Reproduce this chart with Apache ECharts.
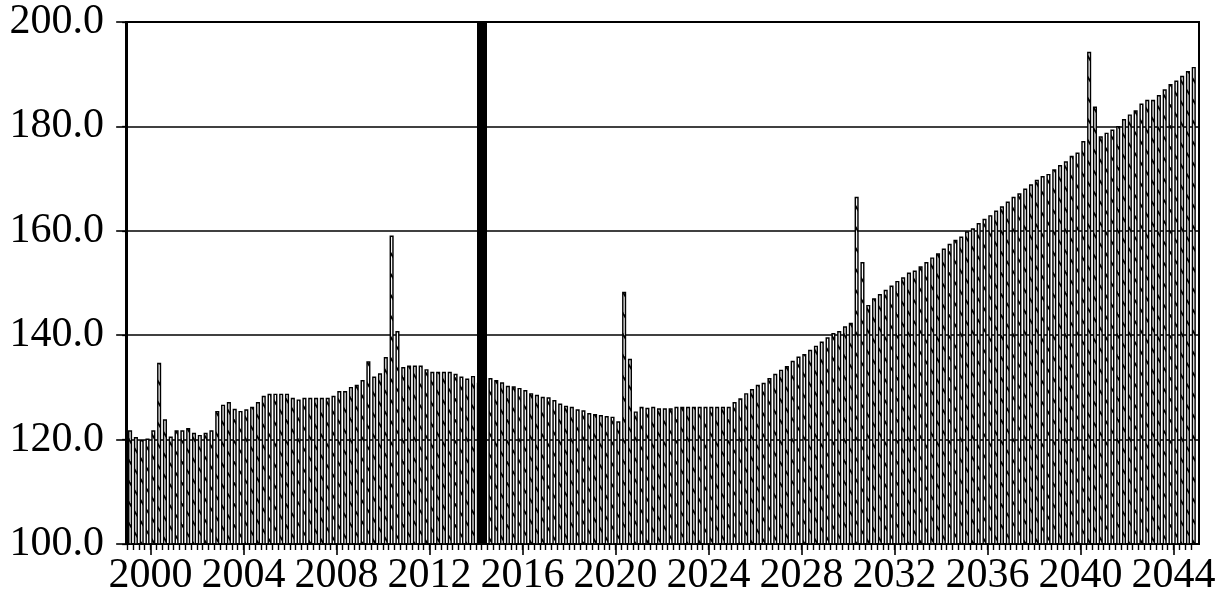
<!DOCTYPE html>
<html>
<head>
<meta charset="utf-8">
<script src="https://cdn.jsdelivr.net/npm/echarts@6/dist/echarts.min.js"></script>
<style>
  html, body { margin: 0; padding: 0; background: #fff; }
  #chart { width: 1224px; height: 599px; }
</style>
</head>
<body>
<div id="chart"></div>
<script>
// Quarterly periods, 1999Q1 .. 2044Q4
const quarters = [];
for (let y = 1999; y <= 2044; y++) {
  for (let q = 1; q <= 4; q++) quarters.push(y + 'Q' + q);
}

// Quarterly values (one row per year)
const values = [
  121.8, 120.5, 119.9, 120.2,   // 1999
  121.8, 134.7, 123.9, 120.6,   // 2000
  121.8, 121.8, 122.2, 121.3,   // 2001
  120.9, 121.3, 121.8, 125.5,   // 2002
  126.7, 127.2, 125.9, 125.5,   // 2003
  125.8, 126.3, 127.2, 128.4,   // 2004
  128.8, 128.8, 128.8, 128.8,   // 2005
  128.0, 127.7, 128.0, 128.0,   // 2006
  128.0, 128.0, 128.0, 128.4,   // 2007
  129.3, 129.3, 130.1, 130.5,   // 2008
  131.4, 135.0, 132.1, 132.7,   // 2009
  135.8, 159.1, 140.8, 133.9,   // 2010
  134.2, 134.2, 134.2, 133.5,   // 2011
  133.0, 133.0, 133.0, 133.0,   // 2012
  132.6, 132.1, 131.7, 132.2,   // 2013
  130.9, 131.5, 131.8, 131.4,   // 2014
  131.0, 130.3, 130.2, 129.9,   // 2015
  129.5, 128.9, 128.6, 128.2,   // 2016
  128.1, 127.6, 126.9, 126.5,   // 2017
  126.3, 125.8, 125.6, 125.1,   // 2018
  124.9, 124.7, 124.5, 124.4,   // 2019
  123.5, 148.3, 135.5, 125.4,   // 2020
  126.3, 126.1, 126.3, 126.0,   // 2021
  126.0, 126.0, 126.3, 126.3,   // 2022
  126.3, 126.3, 126.3, 126.3,   // 2023
  126.3, 126.3, 126.3, 126.3,   // 2024
  127.2, 127.9, 128.9, 129.7,   // 2025
  130.5, 130.9, 131.8, 132.6,   // 2026
  133.4, 134.1, 135.1, 135.9,   // 2027
  136.4, 137.2, 138.0, 138.8,   // 2028
  139.6, 140.4, 140.8, 141.7,   // 2029
  142.4, 166.5, 154.0, 145.8,   // 2030
  147.1, 147.9, 148.7, 149.5,   // 2031
  150.4, 151.1, 152.0, 152.4,   // 2032
  153.2, 154.0, 154.9, 155.7,   // 2033
  156.6, 157.5, 158.3, 158.9,   // 2034
  159.9, 160.5, 161.5, 162.3,   // 2035
  163.0, 163.9, 164.7, 165.6,   // 2036
  166.5, 167.2, 168.1, 168.9,   // 2037
  169.8, 170.5, 170.9, 171.8,   // 2038
  172.6, 173.3, 174.4, 175.0,   // 2039
  177.2, 194.3, 183.8, 178.1,   // 2040
  178.8, 179.4, 180.1, 181.4,   // 2041
  182.3, 183.1, 184.4, 185.1,   // 2042
  185.1, 186.0, 187.1, 188.1,   // 2043
  188.8, 189.7, 190.6, 191.4    // 2044
];

// Labelled years on the time axis
const yearLabels = ['2000', '2004', '2008', '2012', '2016', '2020',
                    '2024', '2028', '2032', '2036', '2040', '2044'];

// First projected quarter (marked by a heavy vertical rule)
const forecastStart = '2014Q2';

const FONT = '"Liberation Serif", "Times New Roman", serif';

// Diagonal hatch tile used as the bar fill
function hatchTile() {
  const w = 13, h = 21;
  const c = document.createElement('canvas');
  c.width = w; c.height = h;
  const ctx = c.getContext('2d');
  ctx.fillStyle = '#fff';
  ctx.fillRect(0, 0, w, h);
  ctx.strokeStyle = '#000';
  ctx.lineWidth = 1.8;
  for (let k = -1; k <= 1; k++) {
    ctx.beginPath();
    ctx.moveTo(k * w - w, -h);
    ctx.lineTo(k * w + 2 * w, 2 * h);
    ctx.stroke();
  }
  return c;
}

const quarterIdx = quarters.map((_, i) => i);
const yearIdx = yearLabels.map(y => quarters.indexOf(y + 'Q1'));
const barData = quarters.map((q, i) => [i + 0.5, values[i]]);

const xMin = -0.2, xMax = quarters.length + 0.4;

const chart = echarts.init(document.getElementById('chart'), null, { renderer: 'canvas' });
chart.setOption({
  animation: false,
  backgroundColor: '#fff',
  grid: {
    left: 126, right: 25, top: 22, bottom: 55,
    show: true, borderColor: '#000', borderWidth: 2, backgroundColor: 'transparent'
  },
  xAxis: [
    {
      type: 'value', min: xMin, max: xMax,
      axisLine: { show: true, lineStyle: { color: '#000', width: 2 } },
      axisTick: { show: true, customValues: quarterIdx, length: 6, lineStyle: { color: '#000', width: 1.4 } },
      axisLabel: { show: false },
      splitLine: { show: false }
    },
    {
      type: 'value', min: xMin, max: xMax, position: 'bottom',
      axisLine: { show: false },
      axisTick: { show: true, customValues: yearIdx, length: 11, lineStyle: { color: '#000', width: 1.6 } },
      axisLabel: {
        show: true, customValues: yearIdx,
        formatter: v => quarters[v].slice(0, 4),
        color: '#000', fontFamily: FONT, fontSize: 42, margin: 11
      },
      splitLine: { show: false }
    }
  ],
  yAxis: [
    {
      type: 'value', min: 100, max: 200, interval: 20,
      axisLine: { show: true, lineStyle: { color: '#000', width: 2 } },
      axisTick: { show: true, length: 11, lineStyle: { color: '#000', width: 1.6 } },
      axisLabel: {
        formatter: v => v.toFixed(1),
        color: '#000', fontFamily: FONT, fontSize: 42, margin: 22
      },
      splitLine: { show: true, lineStyle: { color: '#000', width: 1.7 } }
    },
    {
      type: 'value', min: 100, max: 200, interval: 20, position: 'right',
      axisLine: { show: true, lineStyle: { color: '#000', width: 2 } },
      axisTick: { show: true, inside: true, length: 5, lineStyle: { color: '#000', width: 1.3 } },
      axisLabel: { show: false },
      splitLine: { show: false }
    }
  ],
  series: [
    {
      type: 'bar',
      xAxisIndex: 0, yAxisIndex: 0,
      data: barData,
      barWidth: 4.1,
      itemStyle: {
        color: { image: hatchTile(), repeat: 'repeat' },
        borderColor: '#000',
        borderWidth: 1.45
      },
      markLine: {
        silent: true,
        symbol: 'none',
        label: { show: false },
        lineStyle: { color: '#000', width: 10, type: 'solid' },
        data: [{ xAxis: quarters.indexOf(forecastStart) }]
      }
    }
  ]
});
</script>
</body>
</html>
